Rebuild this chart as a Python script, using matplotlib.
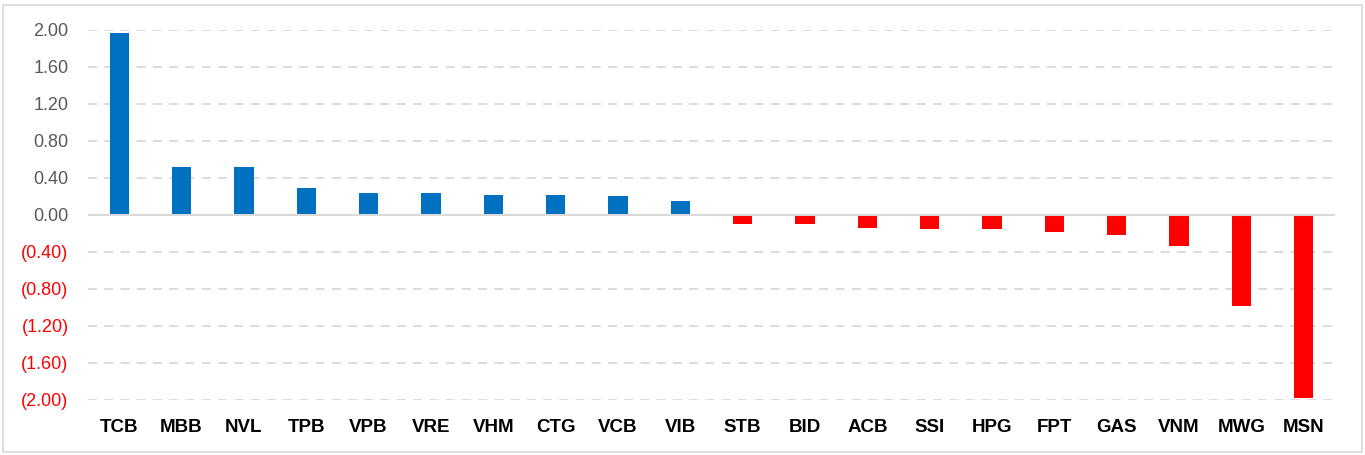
import matplotlib
matplotlib.use("Agg")
import matplotlib.pyplot as plt
from matplotlib.patches import Rectangle

categories = ["TCB", "MBB", "NVL", "TPB", "VPB", "VRE", "VHM", "CTG", "VCB", "VIB",
              "STB", "BID", "ACB", "SSI", "HPG", "FPT", "GAS", "VNM", "MWG", "MSN"]
values = [1.96, 0.52, 0.52, 0.29, 0.23, 0.23, 0.21, 0.21, 0.20, 0.15,
          -0.10, -0.10, -0.14, -0.155, -0.155, -0.19, -0.22, -0.34, -0.99, -1.98]
yticks = [2.0, 1.6, 1.2, 0.8, 0.4, 0.0, -0.4, -0.8, -1.2, -1.6, -2.0]

plt.rcParams['font.family'] = ['Liberation Sans', 'DejaVu Sans']

fig = plt.figure(figsize=(13.65, 4.55), dpi=100)
ax = fig.add_axes([88/1365, 1 - 400/455, (1335-88)/1365, (400-29.5)/455])

colors = ["#0070C0" if v >= 0 else "#FF0000" for v in values]
x = list(range(len(categories)))
ax.bar(x, values, width=0.31, color=colors, zorder=3)

ax.set_xlim(-0.5, len(categories) - 0.5)
ax.set_ylim(-2.0, 2.0)
ax.set_yticks(yticks)
labels = []
for t in yticks:
    if t < 0:
        labels.append("({:.2f})".format(-t))
    else:
        labels.append("{:.2f}".format(t))
ax.set_yticklabels(labels, fontsize=13)
for lab, t in zip(ax.get_yticklabels(), yticks):
    lab.set_color("#FF0000" if t < 0 else "#595959")

for t in yticks:
    if t != 0:
        ax.axhline(t, color="#D9D9D9", linewidth=1.3, linestyle=(0, (5, 4)), zorder=1)
ax.axhline(0, color="#D9D9D9", linewidth=1.5, zorder=4)

ax.set_xticks(x)
ax.set_xticklabels(categories, fontsize=13.5, fontweight="bold", color="black")
ax.tick_params(axis="both", length=0)
ax.tick_params(axis="x", pad=14)
ax.tick_params(axis="y", pad=14)
for s in ax.spines.values():
    s.set_visible(False)

fig.patches.append(Rectangle((3/1365, 3/455), 1359/1365, 447/455, transform=fig.transFigure,
                             fill=False, edgecolor="#D9D9D9", linewidth=1.2))

fig.savefig("out.png", dpi=100)
